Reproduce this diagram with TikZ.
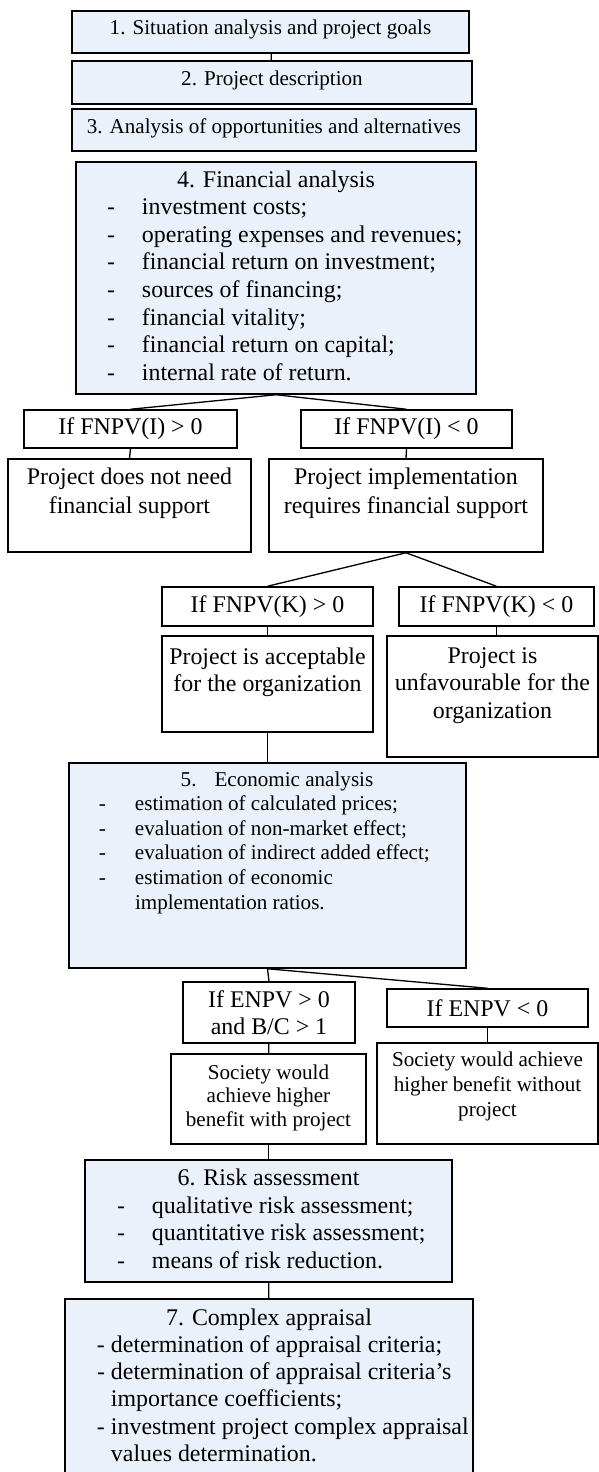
\documentclass[tikz,border=0pt]{standalone}
\usepackage{fontspec}
\setmainfont{Liberation Serif}
\usetikzlibrary{positioning}
\definecolor{StageBlue}{RGB}{235,241,250}

\newcommand{\topblock}[3]{\parbox[c][#2][t]{#1}{#3}}
\newcommand{\dashitem}[2]{\par\noindent\hangindent=#1\hangafter=1\makebox[#1][l]{-}#2}
\newcommand{\bigtext}{\fontsize{13.6}{15.7}\selectfont}
\newcommand{\smalltext}{\fontsize{12}{14}\selectfont}

\tikzset{
  stage/.style={rectangle, draw, line width=0.85pt, fill=StageBlue, inner sep=0pt, align=center},
  check/.style={rectangle, draw, line width=0.85pt, fill=white, inner sep=0pt, align=center},
  link/.style={-, line width=0.75pt},
}

\begin{document}
\begin{tikzpicture}
  \useasboundingbox (0,0) rectangle (11.98,-29.44);
  % stages 1-3
  \node[stage, minimum width=7.94cm, minimum height=0.84cm] (s1) at (5.41,-0.64) {\topblock{7.8cm}{0.48cm}{\centering\smalltext 1. Situation analysis and project goals}};
  \node[stage, minimum width=8.00cm, minimum height=0.86cm] (s2) at (5.44,-1.65) {\topblock{7.8cm}{0.48cm}{\centering\smalltext 2. Project description}};
  \draw[link] (s1) -- (s2);
  \node[stage, minimum width=8.08cm, minimum height=0.84cm] (s3) at (5.48,-2.60) {\topblock{7.9cm}{0.46cm}{\centering\smalltext 3. Analysis of opportunities and alternatives}};

  % stage 4
  \node[stage, minimum width=8.00cm, minimum height=4.64cm] (s4) at (5.52,-5.56) {\topblock{7.6cm}{4.30cm}{\bigtext\centering 4. Financial analysis\par\raggedright\leftskip=0.42cm
      \dashitem{0.70cm}{investment costs;}
      \dashitem{0.70cm}{operating expenses and revenues;}
      \dashitem{0.70cm}{financial return on investment;}
      \dashitem{0.70cm}{sources of financing;}
      \dashitem{0.70cm}{financial vitality;}
      \dashitem{0.70cm}{financial return on capital;}
      \dashitem{0.70cm}{internal rate of return.}}};

  \node[check, font=\bigtext, minimum width=4.26cm, minimum height=0.76cm] (c1) at (2.61,-8.58) {If FNPV(I) > 0};
  \node[check, font=\bigtext, minimum width=4.22cm, minimum height=0.76cm] (c2) at (8.13,-8.58) {If FNPV(I) < 0};
  \draw[link] (s4.south) -- (c1.north);
  \draw[link] (s4.south) -- (c2.north);
  \node[check, minimum width=4.86cm, minimum height=1.86cm] (r1) at (2.59,-10.11) {\topblock{4.7cm}{1.52cm}{\centering\fontsize{13.6}{16.5}\selectfont Project does not need\\financial support}};
  \node[check, minimum width=5.48cm, minimum height=1.86cm] (r2) at (8.12,-10.11) {\topblock{5.3cm}{1.52cm}{\centering\fontsize{13.6}{16.5}\selectfont Project implementation\\requires financial support}};
  \draw[link] (c1.south) -- (r1.north);
  \draw[link] (c2.south) -- (r2.north);

  \node[check, font=\bigtext, minimum width=4.22cm, minimum height=0.78cm] (c3) at (5.35,-12.13) {If FNPV(K) > 0};
  \node[check, font=\bigtext, minimum width=3.90cm, minimum height=0.78cm] (c4) at (9.93,-12.13) {If FNPV(K) < 0};
  \draw[link] (r2.south) -- (c3.north);
  \draw[link] (r2.south) -- (c4.north);
  \node[check, minimum width=4.22cm, minimum height=1.92cm] (r3) at (5.35,-13.68) {\topblock{4.1cm}{1.46cm}{\centering\fontsize{13.6}{15.6}\selectfont Project is acceptable\\for the organization}};
  \node[check, minimum width=4.22cm, minimum height=2.42cm] (r4) at (9.85,-13.93) {\topblock{4.1cm}{1.96cm}{\centering\fontsize{13.6}{15.6}\selectfont Project is\\unfavourable for the\\organization}};
  \draw[link] (c3.south) -- (r3.north);
  \draw[link] (c4.south) -- (c4.south |- r4.north);

  % stage 5
  \node[stage, minimum width=7.94cm, minimum height=4.10cm] (s5) at (5.35,-17.31) {\topblock{7.54cm}{3.76cm}{\smalltext\centering\hspace*{0.38cm}5.\hspace{0.36cm}Economic analysis\par\raggedright\leftskip=0.40cm
      \dashitem{0.72cm}{estimation of calculated prices;}
      \dashitem{0.72cm}{evaluation of non-market effect;}
      \dashitem{0.72cm}{evaluation of indirect added effect;}
      \dashitem{0.72cm}{estimation of economic\newline implementation ratios.}}};
  \draw[link] (r3) -- (s5);

  \node[check, font={\fontsize{13.6}{15.2}\selectfont}, minimum width=3.44cm, minimum height=1.22cm] (c5) at (5.38,-20.25) {If ENPV > 0\\and B/C > 1};
  \node[check, font=\bigtext, minimum width=4.02cm, minimum height=0.76cm] (c6) at (9.75,-20.16) {If ENPV < 0};
  \draw[link] (s5.south) -- (c5.north);
  \draw[link] (s5.south) -- (c6.north);
  \node[check, minimum width=3.90cm, minimum height=1.80cm] (r5) at (5.37,-21.98) {\topblock{3.7cm}{1.38cm}{\centering\fontsize{12}{13.5}\selectfont Society would\\achieve higher\\benefit with project}};
  \node[check, minimum width=4.42cm, minimum height=2.02cm] (r6) at (9.75,-21.87) {\topblock{4.3cm}{1.68cm}{\centering\fontsize{12}{14.2}\selectfont Society would achieve\\higher benefit without\\project}};
  \draw[link] (c5) -- (r5);
  \draw[link] (c6) -- (r6);

  % stage 6
  \node[stage, minimum width=7.34cm, minimum height=2.44cm] (s6) at (5.37,-24.42) {\topblock{6.94cm}{2.10cm}{\fontsize{13.6}{15.9}\selectfont\centering 6. Risk assessment\par\raggedright\leftskip=0.44cm
      \dashitem{0.70cm}{qualitative risk assessment;}
      \dashitem{0.70cm}{quantitative risk assessment;}
      \dashitem{0.70cm}{means of risk reduction.}}};
  \draw[link] (r5) -- (s6);

  % stage 7
  \node[stage, minimum width=8.16cm, minimum height=3.82cm] (s7) at (5.38,-27.89) {\topblock{7.76cm}{3.44cm}{\fontsize{13.6}{15.5}\selectfont\centering 7. Complex appraisal\par\raggedright\leftskip=0.44cm
      \dashitem{0.28cm}{determination of appraisal criteria;}
      \dashitem{0.28cm}{determination of appraisal criteria's\newline importance coefficients;}
      \dashitem{0.28cm}{\mbox{investment project complex appraisal}\newline values determination.}}};
  \draw[link] (s6) -- (s7);
\end{tikzpicture}
\end{document}
